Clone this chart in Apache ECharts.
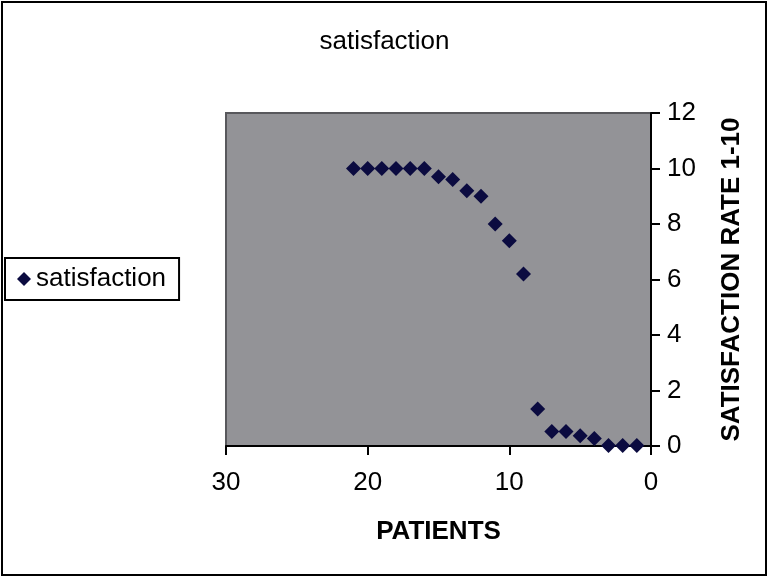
<!DOCTYPE html>
<html>
<head>
<meta charset="utf-8">
<script src="https://cdn.jsdelivr.net/npm/echarts@6/dist/echarts.min.js"></script>
<style>
  html, body { margin: 0; padding: 0; background: #fff; }
  #chart { width: 769px; height: 578px; }
</style>
</head>
<body>
<div id="chart"></div>
<script>
// patients (x) and satisfaction rate (y)
const patients = [21, 20, 19, 18, 17, 16, 15, 14, 13, 12, 11, 10, 9, 8, 7, 6, 5, 4, 3, 2, 1];
const satisfaction = [10, 10, 10, 10, 10, 10, 9.7, 9.6, 9.2, 9.0, 8.0, 7.4, 6.2, 1.33, 0.52, 0.52, 0.37, 0.27, 0.02, 0.02, 0.02];

const font = 'Liberation Sans, Arial, sans-serif';

const chart = echarts.init(document.getElementById('chart'));

chart.setOption({
  animation: false,
  title: {
    text: 'satisfaction',
    left: 'center',
    top: 24,
    textStyle: { fontFamily: font, fontSize: 26, fontWeight: 'normal', color: '#000' }
  },
  legend: {
    left: 5,
    top: 258,
    orient: 'vertical',
    icon: 'diamond',
    itemWidth: 14,
    itemHeight: 14,
    itemGap: 0,
    padding: [8, 13, 8, 12],
    borderColor: '#000',
    borderWidth: 2,
    textStyle: { fontFamily: font, fontSize: 26, color: '#000' }
  },
  grid: {
    left: 226,
    right: 118,
    top: 113,
    bottom: 132,
    show: true,
    backgroundColor: '#939397',
    borderColor: '#58585c',
    borderWidth: 2
  },
  xAxis: {
    type: 'value',
    min: 0,
    max: 30,
    interval: 10,
    inverse: true,
    name: 'PATIENTS',
    nameLocation: 'middle',
    nameGap: 73,
    nameTextStyle: { fontFamily: font, fontSize: 26, fontWeight: 'bold', color: '#000' },
    axisLine: { lineStyle: { color: '#000', width: 2 } },
    axisTick: { length: 9, lineStyle: { color: '#000', width: 2 } },
    axisLabel: { fontFamily: font, fontSize: 26, color: '#000', margin: 24 },
    splitLine: { show: false }
  },
  yAxis: {
    type: 'value',
    position: 'right',
    min: 0,
    max: 12,
    interval: 2,
    name: 'SATISFACTION RATE 1-10',
    nameLocation: 'middle',
    nameRotate: 90,
    nameGap: 68,
    nameTextStyle: { fontFamily: font, fontSize: 26, fontWeight: 'bold', color: '#000' },
    axisLine: { show: true, lineStyle: { color: '#000', width: 2 } },
    axisTick: { show: true, length: 9, lineStyle: { color: '#000', width: 2 } },
    axisLabel: { fontFamily: font, fontSize: 26, color: '#000', margin: 16 },
    splitLine: { show: false }
  },
  graphic: [{
    type: 'rect',
    shape: { x: 2, y: 2, width: 764, height: 573 },
    style: { fill: 'none', stroke: '#000', lineWidth: 2 },
    silent: true
  }],
  series: [{
    name: 'satisfaction',
    type: 'scatter',
    symbol: 'diamond',
    symbolSize: 15,
    itemStyle: { color: '#0b0b40', opacity: 1 },
    data: patients.map((p, i) => [p, satisfaction[i]])
  }]
});
</script>
</body>
</html>
